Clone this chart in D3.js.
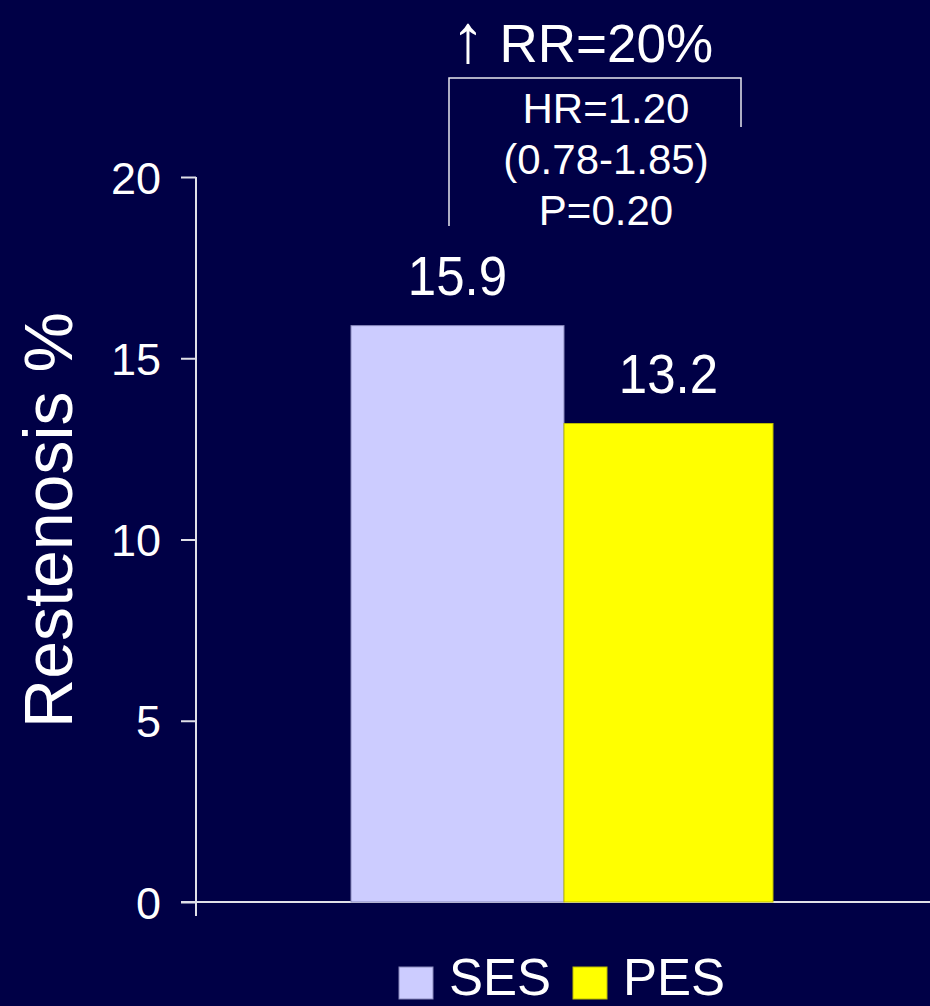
<!DOCTYPE html>
<html>
<head>
<meta charset="utf-8">
<script src="https://cdn.jsdelivr.net/npm/d3@7"></script>
<style>
  html, body { margin: 0; padding: 0; background: #000046; }
  svg { display: block; font-family: "Liberation Sans", Arial, sans-serif; }
</style>
</head>
<body>
<svg id="chart" width="930" height="1006"></svg>
<script>
// chart data
const groups = ['SES', 'PES'];
const restenosis = [15.9, 13.2];
const barColors = ['#ccccff', '#ffff00'];
const barEdges = ['#8888bb', '#bbbb00'];
const yTicks = [0, 5, 10, 15, 20];
const statLines = ['HR=1.20', '(0.78-1.85)', 'P=0.20'];
const arrowGlyph = '\u2191';
const headline = 'RR=20%';

const svg = d3.select('#chart');
const W = 930, H = 1006;

svg.append('rect').attr('width', W).attr('height', H).attr('fill', '#000046');

// scales
const y = d3.scaleLinear().domain([0, 20]).range([902, 177]);
const x = d3.scaleBand().domain(groups).range([351, 777]).padding(0);
const axisX = 196;

// y axis
const yAxis = svg.append('g')
    .attr('transform', `translate(${axisX},0)`)
    .call(d3.axisLeft(y).tickValues(yTicks).tickSize(15).tickPadding(20).tickFormat(d3.format('d')));
yAxis.select('.domain').remove();
yAxis.selectAll('.tick line').attr('stroke', '#e0e0e8').attr('stroke-width', 2);
yAxis.selectAll('.tick text')
    .attr('fill', '#ffffff')
    .style('font-size', '45px')
    .attr('dy', '0.36em');

// axis lines
svg.append('line')
    .attr('x1', axisX).attr('x2', axisX)
    .attr('y1', y(20)).attr('y2', 916)
    .attr('stroke', '#e0e0e8').attr('stroke-width', 2);
svg.append('line')
    .attr('x1', 181).attr('x2', W)
    .attr('y1', y(0)).attr('y2', y(0))
    .attr('stroke', '#e0e0e8').attr('stroke-width', 2);

// bars (PES bar slightly narrower, as in the original)
svg.selectAll('.bar')
    .data(groups)
    .enter().append('rect')
    .attr('class', 'bar')
    .attr('x', d => x(d))
    .attr('width', (d, i) => i === 0 ? x.bandwidth() : x.bandwidth() - 4)
    .attr('y', (d, i) => y(restenosis[i]))
    .attr('height', (d, i) => y(0) - y(restenosis[i]))
    .attr('fill', (d, i) => barColors[i])
    .attr('stroke', (d, i) => barEdges[i])
    .attr('stroke-width', 1);

// value labels (slightly tall glyphs)
svg.selectAll('.val')
    .data(groups)
    .enter().append('text')
    .attr('class', 'val')
    .attr('transform', (d, i) => {
        const cx = x(d) + (i === 0 ? x.bandwidth() : x.bandwidth() - 4) / 2;
        return `translate(${cx},${y(restenosis[i]) - 31}) scale(1,1.1)`;
    })
    .attr('text-anchor', 'middle')
    .attr('fill', '#ffffff')
    .style('font-size', '51px')
    .text((d, i) => restenosis[i].toFixed(1));

// y axis title
svg.append('text')
    .attr('transform', 'translate(72,520) rotate(-90)')
    .attr('text-anchor', 'middle')
    .attr('fill', '#ffffff')
    .style('font-size', '68px')
    .text('Restenosis %');

// comparison bracket
const bx1 = 449, bx2 = 741, by = 78;
svg.append('path')
    .attr('d', `M${bx1},226 V${by} H${bx2} V127`)
    .attr('fill', 'none')
    .attr('stroke', '#e8e8f0')
    .attr('stroke-width', 1.5);

const head = svg.append('text')
    .attr('x', 582).attr('y', 62)
    .attr('text-anchor', 'middle')
    .attr('fill', '#ffffff')
    .style('font-size', '53px');
head.append('tspan').style('font-size', '68px').text(arrowGlyph);
head.append('tspan').text(' ' + headline);

svg.selectAll('.stat')
    .data(statLines)
    .enter().append('text')
    .attr('class', 'stat')
    .attr('x', 606)
    .attr('y', (d, i) => 123 + i * 51)
    .attr('text-anchor', 'middle')
    .attr('fill', '#ffffff')
    .style('font-size', '42px')
    .text(d => d);

// legend
const legendX = [399, 573];
const legend = svg.selectAll('.legend')
    .data(groups)
    .enter().append('g')
    .attr('class', 'legend')
    .attr('transform', (d, i) => `translate(${legendX[i]},967)`);
legend.append('rect')
    .attr('width', 34).attr('height', 32)
    .attr('fill', (d, i) => barColors[i])
    .attr('stroke', (d, i) => barEdges[i])
    .attr('stroke-width', 1);
legend.append('text')
    .attr('x', 50).attr('y', 28)
    .attr('fill', '#ffffff')
    .style('font-size', '51px')
    .text(d => d);
</script>
</body>
</html>
